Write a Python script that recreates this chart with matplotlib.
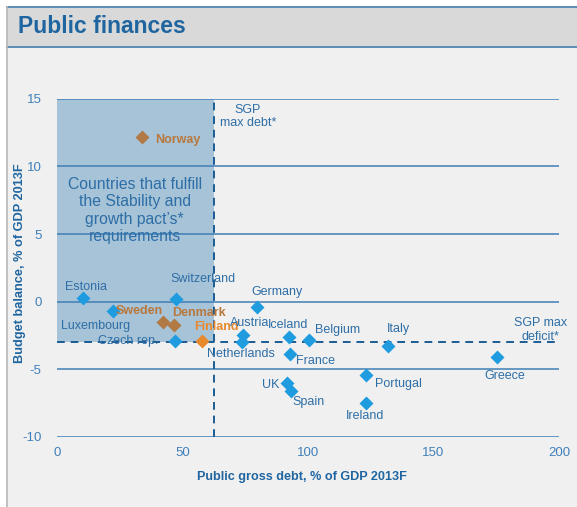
import matplotlib.pyplot as plt
from matplotlib.patches import Rectangle
from matplotlib.lines import Line2D

plt.rcParams['font.family'] = ['Liberation Sans', 'DejaVu Sans']
plt.rcParams['axes.unicode_minus'] = False

# Public gross debt vs budget balance, % of GDP 2013F
countries = ['Norway', 'Estonia', 'Switzerland', 'Luxembourg', 'Sweden', 'Denmark',
             'Czech rep.', 'Finland', 'Germany', 'Austria', 'Netherlands', 'Iceland',
             'Belgium', 'France', 'UK', 'Spain', 'Italy', 'Greece', 'Portugal', 'Ireland']
debt = [33.7, 10.5, 47.6, 22.4, 42.1, 46.7, 47.2, 57.8, 79.7, 74.1, 73.9, 92.4,
        100.4, 93.0, 91.8, 93.1, 131.8, 175.2, 123.2, 123.0]
balance = [12.2, 0.3, 0.2, -0.7, -1.5, -1.7, -2.9, -2.9, -0.4, -2.5, -3.0, -2.6,
           -2.8, -3.9, -6.0, -6.6, -3.3, -4.1, -5.4, -7.5]
group = ['nordic', 'euro', 'euro', 'euro', 'nordic', 'nordic', 'euro', 'finland',
         'euro', 'euro', 'euro', 'euro', 'euro', 'euro', 'euro', 'euro', 'euro',
         'euro', 'euro', 'euro']

SGP_DEBT = 62.7
SGP_DEFICIT = -3
x_ticks = [0, 50, 100, 150, 200]
y_ticks = [-10, -5, 0, 5, 10, 15]

# label placement: (dx, dy) in pixels from the marker, horizontal alignment
label_pos = {
    'Norway': (14, -3, 'left'), 'Estonia': (3, 11, 'center'),
    'Switzerland': (26, 20, 'center'), 'Luxembourg': (-18, -15, 'center'),
    'Sweden': (-23, 11, 'center'), 'Denmark': (-2, 12, 'left'),
    'Czech rep.': (-17, 0, 'right'), 'Finland': (-8, 14, 'left'),
    'Germany': (-6, 15, 'left'), 'Austria': (-13, 12, 'left'),
    'Netherlands': (-35, -12, 'left'), 'Iceland': (-21, 12, 'left'),
    'Belgium': (6, 10, 'left'), 'France': (6, -7, 'left'),
    'UK': (-8, -2, 'right'), 'Spain': (2, -11, 'left'),
    'Italy': (11, 17, 'center'), 'Greece': (8, -19, 'center'),
    'Portugal': (9, -9, 'left'), 'Ireland': (-1, -13, 'center'),
}

BLUE_TXT = '#2e6ea6'
marker_col = {'euro': '#1f9be0', 'nordic': '#b17a45', 'finland': '#e8892e'}
label_col = {'euro': BLUE_TXT, 'nordic': '#b8783c', 'finland': '#e8892e'}

fig = plt.figure(figsize=(5.77, 5.07), dpi=100)
fig.patch.set_facecolor('white')

# panel background, header bar and borders
fig.patches.append(Rectangle((0.012, 0), 0.988, 0.986, transform=fig.transFigure,
                             facecolor='#f0f0f0', edgecolor='none', zorder=-3))
fig.patches.append(Rectangle((0.012, 0.907), 0.988, 0.079, transform=fig.transFigure,
                             facecolor='#d9d9d9', edgecolor='none', zorder=-2))
for yy in (0.986, 0.907):
    fig.lines.append(Line2D([0.012, 1], [yy, yy], transform=fig.transFigure,
                            color='#5b8db8', lw=1.4, zorder=-1))
fig.lines.append(Line2D([0.012, 0.012], [0, 0.986], transform=fig.transFigure,
                        color='#b8b8b8', lw=1.2, zorder=-1))
fig.text(0.031, 0.947, 'Public finances', fontsize=16.5, fontweight='bold',
         color='#1f65a0', ha='left', va='center')

ax = fig.add_axes([0.0988, 0.1383, 0.870, 0.6667])
ax.set_zorder(2)
ax.set_facecolor('none')
ax.set_xlim(0, 200)
ax.set_ylim(-10, 15)
for s in ax.spines.values():
    s.set_visible(False)
ax.set_xticks(x_ticks)
ax.set_yticks(y_ticks)
ax.tick_params(length=0, colors='#3f80ba', labelsize=9.5)
ax.tick_params(axis='x', pad=7)
ax.tick_params(axis='y', pad=11)

# shaded area of countries meeting both criteria
ax.add_patch(Rectangle((0, SGP_DEFICIT), SGP_DEBT, 15 - SGP_DEFICIT,
                       facecolor='#a6c3d8', edgecolor='none', zorder=1))
for yv in y_ticks:
    ax.axhline(yv, color='#3f7fb5', lw=1.1, zorder=2)

ax.plot([SGP_DEBT, SGP_DEBT], [-10, 15], color='#1b5c93', lw=1.4,
        ls=(0, (4, 3)), zorder=3)
ax.plot([0, 200], [SGP_DEFICIT, SGP_DEFICIT], color='#1b5c93', lw=1.4,
        ls=(0, (4, 3)), zorder=3)

for name, xv, yv, g in zip(countries, debt, balance, group):
    ax.plot(xv, yv, marker='D', ms=7.5, color=marker_col[g], mec='none',
            ls='none', zorder=5)
    dx, dy, ha = label_pos[name]
    ax.annotate(name, (xv, yv), xytext=(dx, dy), textcoords='offset pixels',
                ha=ha, va='center', fontsize=9, color=label_col[g],
                fontweight='bold' if g != 'euro' else 'normal', zorder=6)

ax.text(31, 6.75, "Countries that fulfill\nthe Stability and\ngrowth pact\u2019s*\nrequirements",
        ha='center', va='center', fontsize=11.3, color=BLUE_TXT,
        linespacing=1.2, zorder=6)
ax.text(76, 13.7, 'SGP\nmax debt*', ha='center', va='center', fontsize=9,
        color=BLUE_TXT, linespacing=1.2, zorder=6)
ax.text(192.6, -2.1, 'SGP max\ndeficit*', ha='center', va='center', fontsize=9,
        color=BLUE_TXT, linespacing=1.2, zorder=6, clip_on=False)

fig.text(0.524, 0.059, 'Public gross debt, % of GDP 2013F', ha='center',
         va='center', fontsize=9.1, fontweight='bold', color='#1f65a0')
fig.text(0.035, 0.481, 'Budget balance, % of GDP 2013F', ha='center',
         va='center', rotation=90, fontsize=9.2, fontweight='bold', color='#1f65a0')

fig.savefig('out.png', dpi=100)
